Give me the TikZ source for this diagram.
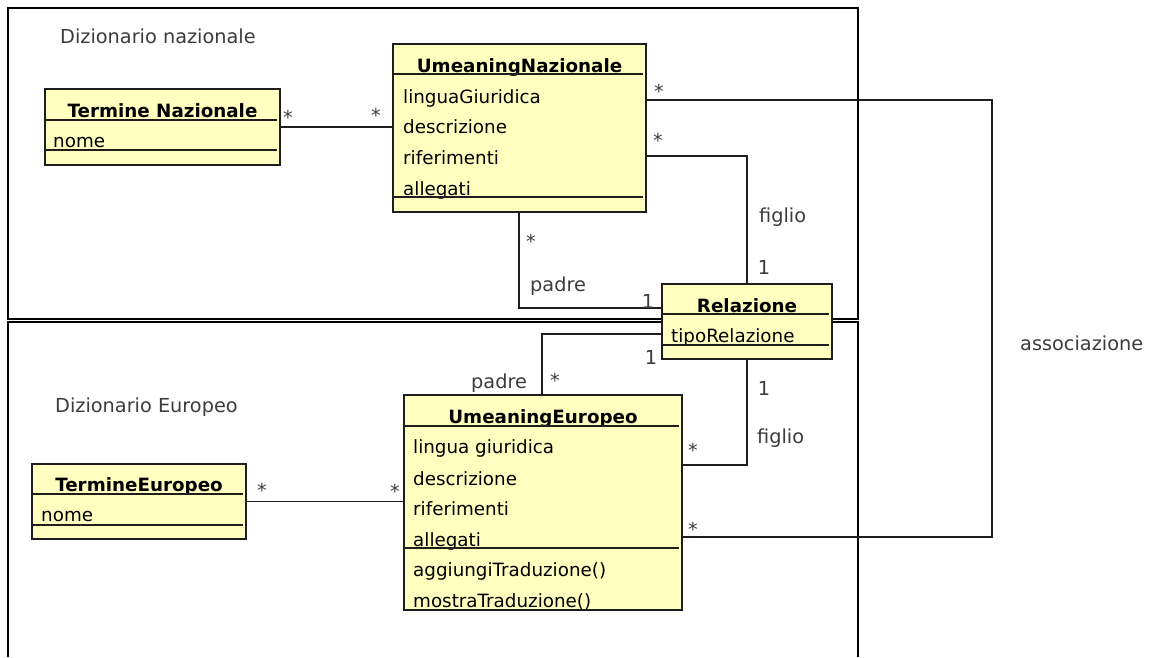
\documentclass[tikz,border=0pt]{standalone}
\usepackage{fontspec}
\setmainfont{DejaVu Sans}
\definecolor{classfill}{RGB}{255,255,192}
\definecolor{labelgray}{RGB}{60,60,60}
\definecolor{linedark}{RGB}{30,30,30}
\begin{document}
\begin{tikzpicture}[x=1pt,y=-1pt,
  classbox/.style={draw=linedark, line width=1.5pt, fill=classfill, anchor=north west, inner sep=0pt, outer sep=0pt},
  ctext/.style={anchor=base west, inner sep=0pt, font=\fontsize{18.3}{22}\selectfont},
  ctitle/.style={anchor=base, inner sep=0pt, font=\fontsize{18.3}{22}\selectfont\bfseries},
  lbl/.style={anchor=base west, inner sep=0pt, text=labelgray, font=\fontsize{19.3}{23}\selectfont},
  mult/.style={anchor=base, inner sep=0pt, text=labelgray, font=\fontsize{19.3}{23}\selectfont},
  conn/.style={draw=linedark, line width=1.3pt},
  pkgframe/.style={draw=black, line width=1.6pt},
  sepline/.style={draw=linedark, line width=1.3pt}]

\useasboundingbox (0,0) rectangle (1152,657);

% package frames
\draw[pkgframe] (8,8) rectangle (858,319);
\draw[pkgframe] (8,657) -- (8,322) -- (858,322) -- (858,657);

% class boxes
\node[classbox, minimum width=235pt, minimum height=76pt] (tn) at (45,89) {};
\node[classbox, minimum width=253pt, minimum height=168pt] (un) at (393,44) {};
\node[classbox, minimum width=170pt, minimum height=75pt] (rel) at (662,284) {};
\node[classbox, minimum width=278pt, minimum height=215pt] (ue) at (404,395) {};
\node[classbox, minimum width=214pt, minimum height=75pt] (te) at (32,464) {};

% connector bends
\coordinate (aTop) at (992,100);
\coordinate (aBot) at (992,537);
\coordinate (fT) at (747,156);
\coordinate (fB) at (747,465);
\coordinate (pT) at (519,308);
\coordinate (pB) at (542,334);

% connectors
\draw[conn] (tn.east) -- (tn.east -| un.west);
\draw[conn] (te.east) -- (te.east -| ue.west);
\draw[conn] (un.east |- aTop) -- (aTop) -- (aBot) -- (aBot -| ue.east);
\draw[conn] (un.east |- fT) -- (fT) -- (rel.north);
\draw[conn] (rel.south) -- (fB) -- (fB -| ue.east);
\draw[conn] (un.south -| pT) -- (pT) -- (pT -| rel.west);
\draw[conn] (pB -| rel.west) -- (pB) -- (ue.north -| pB);

% Termine Nazionale
\node[ctitle] (tnT) at (162.5,117) {Termine Nazionale};
\draw[sepline] (tn.west |- 0,120) -- ++(232,0);
\node[ctext] (tnA) at (53,147) {nome};
\draw[sepline] (tn.west |- 0,150) -- ++(232,0);

% UmeaningNazionale
\node[ctitle] (unT) at (519.5,72) {UmeaningNazionale};
\draw[sepline] (un.west |- 0,74) -- ++(250,0);
\node[ctext] (unA1) at (403,103) {linguaGiuridica};
\node[ctext] (unA2) at (403,133) {descrizione};
\node[ctext] (unA3) at (403,164) {riferimenti};
\node[ctext] (unA4) at (403,195) {allegati};
\draw[sepline] (un.west |- 0,197) -- ++(250,0);

% Relazione
\node[ctitle] (relT) at (747,312) {Relazione};
\draw[sepline] (rel.west |- 0,314) -- ++(167,0);
\node[ctext] (relA) at (671,342) {tipoRelazione};
\draw[sepline] (rel.west |- 0,345) -- ++(167,0);

% UmeaningEuropeo
\node[ctitle] (ueT) at (543,423) {UmeaningEuropeo};
\draw[sepline] (ue.west |- 0,426) -- ++(275,0);
\node[ctext] (ueA1) at (413,453) {lingua giuridica};
\node[ctext] (ueA2) at (413,485) {descrizione};
\node[ctext] (ueA3) at (413,515) {riferimenti};
\node[ctext] (ueA4) at (413,546) {allegati};
\draw[sepline] (ue.west |- 0,548) -- ++(275,0);
\node[ctext] (ueM1) at (413,576) {aggiungiTraduzione()};
\node[ctext] (ueM2) at (413,607) {mostraTraduzione()};

% TermineEuropeo
\node[ctitle] (teT) at (139,491) {TermineEuropeo};
\draw[sepline] (te.west |- 0,494) -- ++(211,0);
\node[ctext] (teA) at (41,521) {nome};
\draw[sepline] (te.west |- 0,525) -- ++(211,0);

% package names and free labels
\node[lbl] (pkgN) at (60,43) {Dizionario nazionale};
\node[lbl] (pkgE) at (55,412) {Dizionario Europeo};
\node[lbl] (assoc) at (1020,350) {associazione};
\node[lbl] (figT) at (759,222) {figlio};
\node[lbl] (figB) at (757,443) {figlio};
\node[lbl] (padT) at (530,291) {padre};
\node[lbl] (padB) at (471,388) {padre};

% multiplicities
\node[mult] (m1) at (288,124) {*};
\node[mult] (m2) at (376,122) {*};
\node[mult] (m3) at (659,98) {*};
\node[mult] (m4) at (658,147) {*};
\node[mult] (m5) at (531,248) {*};
\node[mult] (m6) at (555,387) {*};
\node[mult] (m7) at (693,457) {*};
\node[mult] (m8) at (693,536) {*};
\node[mult] (m9) at (262,497) {*};
\node[mult] (m10) at (395,498) {*};
\node[mult] (o1) at (648,308) {1};
\node[mult] (o2) at (651,364) {1};
\node[mult] (o3) at (764,274) {1};
\node[mult] (o4) at (764,395) {1};
\end{tikzpicture}
\end{document}
